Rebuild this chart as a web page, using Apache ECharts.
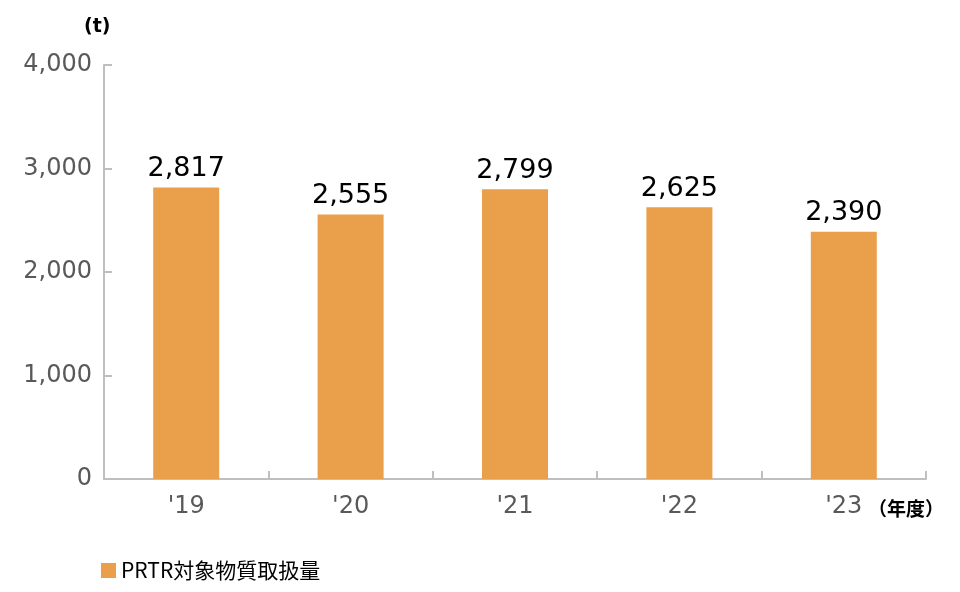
<!DOCTYPE html>
<html><head><meta charset="utf-8">
<script src="https://cdn.jsdelivr.net/npm/echarts@6/dist/echarts.min.js"></script>
<style>html,body{margin:0;padding:0;background:#fff}#c{width:960px;height:592px}</style>
</head><body><div id="c"></div>
<script>
const categories = ["'19", "'20", "'21", "'22", "'23"];
const values = [2817, 2555, 2799, 2625, 2390];
const yTicks = [0, 1000, 2000, 3000, 4000];
const seriesName = "PRTR対象物質取扱量";

const chart = echarts.init(document.getElementById('c'));
chart.setOption({
  animation: false,
  grid: {left: 104, right: 34, top: 65, bottom: 113},
  legend: {
    data: [seriesName], left: 96, top: 555, itemWidth: 15, itemHeight: 15, itemGap: 6,
    icon: 'rect',
    textStyle: {fontSize: 21, color: '#000', fontFamily: 'Noto Sans CJK JP'}
  },
  graphic: [
    {type: 'text', left: 84, top: 18, style: {text: '(t)', font: 'bold 19px "DejaVu Sans"', fill: '#000'}},
    {type: 'text', left: 868, top: 499, style: {text: '（年度）', font: 'bold 19px "Noto Sans CJK JP"', fill: '#000'}}
  ],
  xAxis: {
    type: 'category', data: categories,
    axisLine: {lineStyle: {color: '#bfbfbf', width: 2}},
    axisTick: {show: true, inside: true, length: 8, lineStyle: {color: '#bfbfbf', width: 2}},
    axisLabel: {fontSize: 24, color: '#595959', fontFamily: 'DejaVu Sans', margin: 16}
  },
  yAxis: {
    type: 'value', min: 0, max: 4000, interval: 1000,
    axisLine: {show: true, lineStyle: {color: '#bfbfbf', width: 2}},
    axisTick: {show: true, inside: true, length: 8, lineStyle: {color: '#bfbfbf', width: 2}},
    splitLine: {show: false},
    axisLabel: {fontSize: 24, color: '#595959', fontFamily: 'DejaVu Sans', margin: 12,
      formatter: v => yTicks.includes(v) ? v.toLocaleString('en-US') : ''}
  },
  series: [{
    name: seriesName, type: 'bar', data: values, barWidth: 66,
    itemStyle: {color: '#EA9F4A'},
    label: {show: true, position: 'top', distance: 5, fontSize: 27, color: '#000',
      fontFamily: 'DejaVu Sans',
      formatter: p => p.value.toLocaleString('en-US')}
  }]
});
</script></body></html>
